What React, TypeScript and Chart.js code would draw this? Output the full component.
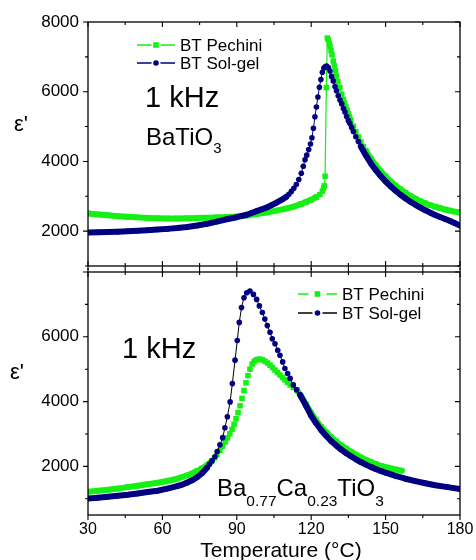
import React, { useEffect, useRef } from "react";
import { Chart, registerables } from "chart.js";

Chart.register(...registerables);

// ---------- data (temperature °C, permittivity ε') ----------
const solGelTop: number[][] = [
  [30, 1960], [34, 1965], [38, 1975], [42, 1985], [46, 1998], [50, 2012], [54, 2028], [58, 2045],
  [62, 2065], [66, 2088], [70, 2120], [74, 2160], [78, 2210], [82, 2275], [86, 2340], [90, 2400],
  [94, 2470], [98, 2575], [102, 2680], [104, 2745], [106, 2815], [108, 2895], [110, 2990],
  [111, 3060], [112, 3140], [113, 3230], [114, 3340], [115, 3480], [116, 3660], [116.8, 3860],
  [117.5, 4050], [118.2, 4180], [119.0, 4340], [119.7, 4500], [120.3, 4680], [120.9, 4950],
  [121.5, 5280], [122.1, 5560], [122.7, 5850], [123.3, 6130], [123.9, 6350], [124.5, 6560],
  [125.1, 6680], [125.7, 6725], [126.2, 6735], [126.9, 6690], [127.6, 6594], [128.2, 6440],
  [128.9, 6310], [129.6, 6150], [130.2, 6027], [130.9, 5886], [131.6, 5760], [132.3, 5650],
  [133.0, 5520], [133.6, 5420], [134.3, 5290], [135.0, 5170], [135.6, 5085], [136.3, 4970],
  [137.0, 4860], [138.0, 4710], [139.0, 4570], [140.0, 4430], [142, 4180], [144, 3950],
  [146, 3755], [148, 3580], [150, 3425], [152, 3285], [154, 3160], [156, 3045], [158, 2940],
  [160, 2845], [162, 2755], [164, 2675], [166, 2600], [168, 2530], [170, 2465], [172, 2405],
  [174, 2350], [176, 2290], [178, 2225], [180, 2160],
];

const pechiniTop: number[][] = [
  [30, 2510], [34, 2480], [38, 2455], [42, 2430], [46, 2410], [50, 2395], [54, 2380], [58, 2370],
  [62, 2365], [66, 2365], [70, 2368], [74, 2375], [78, 2385], [82, 2395], [86, 2405], [90, 2420],
  [94, 2450], [98, 2490], [102, 2535], [106, 2590], [110, 2650], [113, 2705], [116, 2780],
  [118, 2840], [120, 2900], [122, 2975], [123.5, 3050], [124.5, 3150], [125.0, 3240],
  [125.3, 3300], [125.6, 3575], [126.1, 6120], [126.5, 7540], [126.9, 7490], [127.3, 7380],
  [127.6, 7300], [128.0, 7180], [128.4, 7060], [128.9, 6880], [129.3, 6750], [129.8, 6600],
  [130.2, 6450], [130.8, 6290], [131.6, 6120], [132.3, 5930], [133.0, 5780], [133.5, 5670],
  [134.0, 5560], [134.5, 5465], [135.0, 5370], [135.5, 5275], [136.0, 5180], [137.0, 5010],
  [138.0, 4850], [139.0, 4700], [140.0, 4560], [141.0, 4430], [142.0, 4310], [144, 4090],
  [146, 3890], [148, 3720], [150, 3570], [152, 3430], [154, 3310], [156, 3200], [158, 3100],
  [160, 3010], [162, 2930], [164, 2860], [166, 2800], [168, 2745], [170, 2700], [172, 2660],
  [174, 2620], [176, 2590], [178, 2560], [180, 2535],
];

const solGelBottom: number[][] = [
  [30, 1010], [34, 1035], [38, 1062], [42, 1092], [46, 1125], [50, 1165], [54, 1210], [58, 1250],
  [62, 1315], [66, 1390], [68, 1440], [70, 1500], [72, 1570], [74, 1665], [76, 1790], [78, 1960],
  [79, 2070], [80, 2170], [81.2, 2300], [82.1, 2460], [83.2, 2665], [84.3, 2887], [85.2, 3192],
  [86.2, 3534], [87.3, 3990], [88.2, 4555], [89.3, 5280], [90.2, 5887], [91.0, 6445],
  [91.9, 6902], [92.9, 7207], [94.0, 7360], [95.3, 7412], [96.7, 7308], [98.0, 7155],
  [99.1, 6954], [100.3, 6750], [101.3, 6546], [102.3, 6345], [103.4, 6140], [104.3, 5936],
  [105.4, 5784], [106.5, 5583], [107.4, 5430], [108.5, 5226], [109.4, 5021], [110.5, 4869],
  [111.5, 4716], [112.8, 4515], [114.1, 4363], [115.5, 4210], [118, 3860], [120, 3560],
  [122, 3330], [124, 3125], [126, 2945], [128, 2785], [130, 2650], [132, 2525], [134, 2415],
  [136, 2315], [138, 2220], [140, 2135], [142, 2055], [144, 1985], [146, 1920], [148, 1860],
  [150, 1805], [154, 1705], [158, 1620], [162, 1545], [166, 1480], [170, 1420], [175, 1360],
  [180, 1300],
];

const pechiniBottom: number[][] = [
  [30, 1220], [34, 1250], [38, 1280], [42, 1315], [46, 1360], [50, 1405], [54, 1450], [58, 1495],
  [62, 1550], [66, 1620], [70, 1720], [74, 1855], [76, 1940], [78, 2035], [80, 2175], [81, 2265],
  [82, 2370], [83.2, 2490], [84.3, 2620], [85.3, 2750], [86.3, 2880], [87.2, 3010], [88.1, 3150],
  [88.9, 3300], [89.7, 3470], [90.5, 3660], [91.3, 3870], [92.1, 4100], [92.9, 4340],
  [93.7, 4580], [94.5, 4800], [95.3, 5000], [96.2, 5160], [97.0, 5240], [97.8, 5285],
  [98.6, 5305], [99.4, 5308], [100.4, 5285], [101.4, 5247], [102.4, 5190], [103.4, 5125],
  [104.4, 5050], [105.4, 4973], [106.4, 4897], [107.4, 4820], [108.4, 4745], [109.4, 4668],
  [110.4, 4592], [111.5, 4515], [112.8, 4440], [114.2, 4363], [116, 4160], [118, 3910],
  [120, 3650], [122, 3425], [124, 3225], [126, 3055], [128, 2905], [130, 2775], [132, 2655],
  [134, 2550], [136, 2455], [138, 2365], [140, 2280], [142, 2205], [144, 2135], [146, 2075],
  [148, 2020], [150, 1975], [152, 1940], [154, 1905], [156.5, 1870],
];

const xTickLabels = [30, 60, 90, 120, 150, 180];
const yTickValues = [1000, 2000, 3000, 4000, 5000, 6000, 7000, 8000];
const topYLabels = [2000, 4000, 6000, 8000];
const bottomYLabels = [2000, 4000, 6000];
const legendLabels = ["BT Pechini", "BT Sol-gel"];
const xTitle = "Temperature (°C)";
const yTitle = "ε'";
const freqLabel = "1 kHz";

const NAVY = "#000080";
const GREEN = "#14ef14";
const FONT = "'Liberation Sans', Arial, Helvetica, sans-serif";

type Part = [string, boolean];

function drawRich(ctx: CanvasRenderingContext2D, parts: Part[], x: number, y: number, size: number, subSize: number, subDy: number) {
  let cx = x;
  ctx.textAlign = "left";
  ctx.textBaseline = "alphabetic";
  ctx.fillStyle = "#000";
  for (const [txt, sub] of parts) {
    ctx.font = `${sub ? subSize : size}px ${FONT}`;
    ctx.fillText(txt, cx, sub ? y + subDy : y);
    cx += ctx.measureText(txt).width;
  }
}

function drawLegendItem(ctx: CanvasRenderingContext2D, x0: number, x1: number, y: number, color: string, lineColor: string, gap: number, shape: "rect" | "circle", label: string, textX: number) {
  const mx = (x0 + x1) / 2;
  ctx.save();
  ctx.strokeStyle = lineColor;
  ctx.lineWidth = 1.3;
  ctx.beginPath();
  ctx.moveTo(x0, y);
  ctx.lineTo(mx - gap, y);
  ctx.moveTo(mx + gap, y);
  ctx.lineTo(x1, y);
  ctx.stroke();
  ctx.fillStyle = color;
  if (shape === "rect") {
    ctx.fillRect(mx - 2.8, y - 2.8, 5.6, 5.6);
  } else {
    ctx.beginPath();
    ctx.arc(mx, y, 2.8, 0, Math.PI * 2);
    ctx.fill();
  }
  ctx.fillStyle = "#000";
  ctx.font = `17px ${FONT}`;
  ctx.textAlign = "left";
  ctx.textBaseline = "middle";
  ctx.fillText(label, textX, y + 1);
  ctx.restore();
}

interface PanelOpts {
  pechini: number[][];
  solgel: number[][];
  yMin: number;
  yMax: number;
  yLabels: number[];
  showX: boolean;
  height: number;
  padTop: number;
  padBottom: number;
  xHeight: number;
  pechiniThin: string;
  solgelThin: string;
  decorate: (ctx: CanvasRenderingContext2D) => void;
  topTicks: "in" | "both";
  bottomTicks: "out" | "both";
}

function framePlugin(o: PanelOpts) {
  return {
    id: "frameDeco",
    afterDraw(chart: any) {
      const ctx: CanvasRenderingContext2D = chart.ctx;
      const { left, right, top, bottom } = chart.chartArea;
      const xs = chart.scales.x;
      const ys = chart.scales.y;
      ctx.save();
      ctx.strokeStyle = "#000";
      ctx.lineWidth = 1.3;
      ctx.strokeRect(left, top, right - left, bottom - top);
      ctx.lineWidth = 1.1;
      ctx.beginPath();
      for (let t = 30; t <= 180; t += 15) {
        const px = xs.getPixelForValue(t);
        const len = t % 30 === 0 ? 5 : 3;
        if (o.bottomTicks === "out") {
          ctx.moveTo(px, bottom);
          ctx.lineTo(px, bottom + len);
        } else {
          ctx.moveTo(px, bottom - len);
          ctx.lineTo(px, bottom + len);
        }
        if (o.topTicks === "in") {
          ctx.moveTo(px, top);
          ctx.lineTo(px, top + len);
        } else {
          ctx.moveTo(px, top - len);
          ctx.lineTo(px, top + len);
        }
      }
      for (const v of yTickValues) {
        if (v < o.yMin || v > o.yMax) continue;
        const py = ys.getPixelForValue(v);
        const len = v % 2000 === 0 ? 5 : 3;
        ctx.moveTo(left, py);
        ctx.lineTo(left - len, py);
        ctx.moveTo(right, py);
        ctx.lineTo(right - len, py);
      }
      ctx.stroke();
      ctx.restore();
      ctx.save();
      o.decorate(ctx);
      ctx.restore();
    },
  };
}

function makeDataset(label: string, pts: number[][], color: string, thin: string, thinWidth: number, shape: string, radius: number, order: number) {
  const isBand = (c: any) => c.p1.x - c.p0.x >= 4;
  return {
    label,
    data: pts.map(([x, y]) => ({ x, y })),
    borderColor: color,
    backgroundColor: color,
    borderWidth: thinWidth,
    borderCapStyle: "round",
    borderJoinStyle: "round",
    pointStyle: shape,
    pointRadius: radius,
    pointBorderWidth: 0,
    pointBackgroundColor: color,
    pointBorderColor: color,
    tension: 0,
    order,
    segment: {
      borderWidth: (c: any) => (isBand(c) ? 6 : thinWidth),
      borderColor: (c: any) => (isBand(c) ? color : thin),
    },
  };
}

function buildConfig(o: PanelOpts): any {
  return {
    type: "line",
    data: {
      datasets: [
        makeDataset(legendLabels[1], o.solgel, NAVY, o.solgelThin, 1, "circle", 2.8, 0),
        makeDataset(legendLabels[0], o.pechini, GREEN, o.pechiniThin, 1.2, "rect", 3.9, 1),
      ],
    },
    options: {
      responsive: false,
      animation: false,
      devicePixelRatio: 1,
      events: [],
      layout: { padding: { left: 0, right: 16, top: o.padTop, bottom: o.padBottom } },
      plugins: { legend: { display: false }, tooltip: { enabled: false }, title: { display: false } },
      scales: {
        x: {
          type: "linear",
          min: 30,
          max: 180,
          display: o.showX,
          afterBuildTicks: (s: any) => {
            s.ticks = xTickLabels.map((v) => ({ value: v }));
          },
          ticks: {
            autoSkip: false,
            maxRotation: 0,
            color: "#000",
            padding: 5,
            font: { family: FONT, size: 16 },
          },
          grid: { display: false, drawTicks: false },
          border: { display: false },
          afterFit: (s: any) => {
            s.height = o.xHeight;
            s.paddingLeft = 0;
            s.paddingRight = 0;
          },
        },
        y: {
          type: "linear",
          min: o.yMin,
          max: o.yMax,
          afterBuildTicks: (s: any) => {
            s.ticks = yTickValues.filter((v) => v >= o.yMin && v <= o.yMax).map((v) => ({ value: v }));
          },
          ticks: {
            autoSkip: false,
            color: "#000",
            padding: 9,
            font: { family: FONT, size: 17 },
            callback: (v: number) => (o.yLabels.includes(v) ? String(v) : ""),
          },
          grid: { display: false, drawTicks: false },
          border: { display: false },
          afterFit: (s: any) => {
            s.width = 88;
            s.paddingTop = 0;
            s.paddingBottom = 0;
          },
        },
      },
    },
    plugins: [framePlugin(o)],
  };
}

function drawYTitle(ctx: CanvasRenderingContext2D, x: number, y: number) {
  ctx.fillStyle = "#000";
  ctx.font = `22px ${FONT}`;
  ctx.textAlign = "center";
  ctx.textBaseline = "middle";
  ctx.fillText(yTitle, x, y);
}

const topOpts: PanelOpts = {
  pechini: pechiniTop,
  solgel: solGelTop,
  yMin: 1000,
  yMax: 8000,
  yLabels: topYLabels,
  showX: false,
  height: 270,
  padTop: 22,
  padBottom: 2,
  xHeight: 0,
  pechiniThin: GREEN,
  solgelThin: NAVY,
  topTicks: "in",
  bottomTicks: "both",
  decorate: (ctx) => {
    drawYTitle(ctx, 21, 125);
    ctx.fillStyle = "#000";
    ctx.font = `29px ${FONT}`;
    ctx.textAlign = "left";
    ctx.textBaseline = "alphabetic";
    ctx.fillText(freqLabel, 145, 107);
    drawRich(ctx, [["BaTiO", false], ["3", true]], 146, 145, 24, 15, 8);
    drawLegendItem(ctx, 137, 175, 45, GREEN, GREEN, 4.5, "rect", legendLabels[0], 180);
    drawLegendItem(ctx, 137, 175, 63, NAVY, NAVY, 4.5, "circle", legendLabels[1], 180);
  },
};

const bottomOpts: PanelOpts = {
  pechini: pechiniBottom,
  solgel: solGelBottom,
  yMin: 500,
  yMax: 8000,
  yLabels: bottomYLabels,
  showX: true,
  height: 292,
  padTop: 1,
  padBottom: 0,
  xHeight: 45,
  pechiniThin: "rgba(0,0,0,0)",
  solgelThin: "#000",
  topTicks: "both",
  bottomTicks: "out",
  decorate: (ctx) => {
    drawYTitle(ctx, 17, 105);
    ctx.fillStyle = "#000";
    ctx.font = `29px ${FONT}`;
    ctx.textAlign = "left";
    ctx.textBaseline = "alphabetic";
    ctx.fillText(freqLabel, 122, 90);
    drawRich(
      ctx,
      [["Ba", false], ["0.77", true], ["Ca", false], ["0.23", true], ["TiO", false], ["3", true]],
      217,
      228,
      24,
      15.5,
      10
    );
    drawLegendItem(ctx, 298, 337, 26, GREEN, GREEN, 9, "rect", legendLabels[0], 342);
    drawLegendItem(ctx, 298, 337, 45, NAVY, "#000", 5, "circle", legendLabels[1], 342);
    ctx.fillStyle = "#000";
    ctx.font = `21px ${FONT}`;
    ctx.textAlign = "center";
    ctx.textBaseline = "alphabetic";
    ctx.fillText(xTitle, 281, 289);
  },
};

function Panel({ opts, top }: { opts: PanelOpts; top: number }) {
  const ref = useRef<HTMLCanvasElement | null>(null);
  useEffect(() => {
    if (!ref.current) return;
    const chart = new Chart(ref.current, buildConfig(opts));
    return () => chart.destroy();
  }, [opts]);
  return (
    <canvas
      ref={ref}
      width={476}
      height={opts.height}
      style={{ position: "absolute", left: 0, top, width: 476, height: opts.height, display: "block" }}
    />
  );
}

export default function App() {
  return (
    <div style={{ position: "absolute", left: 0, top: 0, width: 476, height: 560, background: "#fff", overflow: "hidden" }}>
      <Panel opts={bottomOpts} top={268} />
      <Panel opts={topOpts} top={0} />
    </div>
  );
}
